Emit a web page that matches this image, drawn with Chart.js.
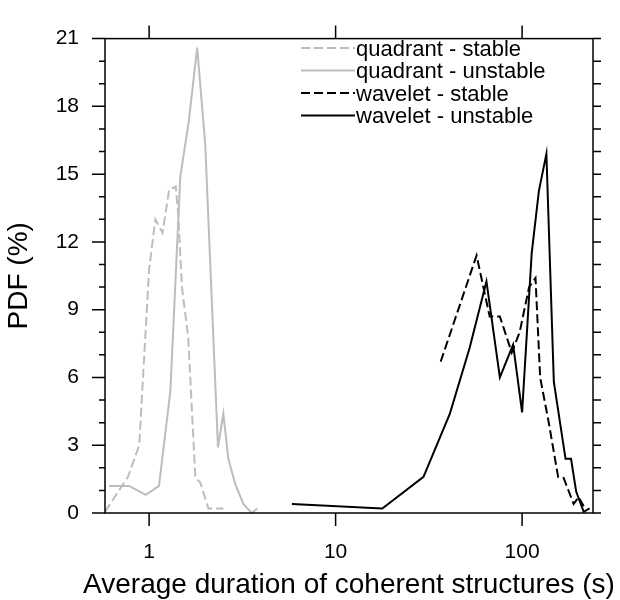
<!DOCTYPE html>
<html>
<head>
<meta charset="utf-8">
<script src="https://cdn.jsdelivr.net/npm/chart.js@4"></script>
<style>
  body { margin: 0; background: #fff; }
  canvas { display: block; }
</style>
</head>
<body>
<canvas id="pdfChart" width="620" height="600"></canvas>
<script>
// values (x in seconds, y in %)
const quadStableX = [0.58, 0.77, 0.885, 1.0, 1.08, 1.18, 1.28, 1.39, 1.43, 1.5, 1.62, 1.77, 1.88, 2.08, 2.5];
const quadStableY = [0.05, 1.6, 3.0, 10.8, 13.0, 12.4, 14.3, 14.45, 13.3, 10.0, 7.8, 1.55, 1.35, 0.2, 0.2];

const quadUnstableX = [0.61, 0.78, 0.96, 1.13, 1.30, 1.47, 1.63, 1.81, 2.0, 2.34, 2.5, 2.66, 2.89, 3.2, 3.55, 3.81];
const quadUnstableY = [1.2, 1.2, 0.8, 1.2, 5.4, 14.9, 17.3, 20.6, 16.3, 2.9, 4.4, 2.4, 1.3, 0.4, 0, 0.2];

const waveStableX = [36.6, 57, 67, 76, 88, 97, 109, 118, 125, 139, 156, 167, 189, 201, 214];
const waveStableY = [6.7, 11.4, 8.7, 8.7, 7.1, 8.0, 10.0, 10.4, 6.0, 4.0, 1.6, 1.55, 0.4, 0.7, 0.3];

const waveUnstableX = [5.83, 17.8, 29.6, 41, 52.3, 64.4, 76, 89.5, 100, 112.6, 123, 135, 148, 171, 183, 195, 214, 230];
const waveUnstableY = [0.4, 0.2, 1.6, 4.4, 7.3, 10.25, 6.0, 7.45, 4.45, 11.5, 14.25, 15.9, 5.8, 2.4, 2.4, 0.95, 0.05, 0.2];

const seriesNames = ["quadrant - stable", "quadrant - unstable", "wavelet - stable", "wavelet - unstable"];
const xMajorTicks = [1, 10, 100];
const yMax = 21;
const xTitle = "Average duration of coherent structures (s)";

const FONT = "'Liberation Sans', Arial, Helvetica, sans-serif";
const GRAY = "#bdbdbd";

function pts(xs, ys) {
  return xs.map((x, i) => ({ x: x, y: ys[i] }));
}

function line(label, xs, ys, color, dash) {
  return {
    label: label,
    data: pts(xs, ys),
    borderColor: color,
    backgroundColor: color,
    borderWidth: 2,
    borderDash: dash,
    pointRadius: 0,
    tension: 0,
    fill: false
  };
}

// box, tick marks, x title (chart.js squeezes it to the axis width) and the legend
const framePlugin = {
  id: "frame",
  afterDatasetsDraw(chart) {
    const ctx = chart.ctx;
    const a = chart.chartArea;
    const x = chart.scales.x;
    const y = chart.scales.y;
    ctx.save();
    ctx.strokeStyle = "#000";
    ctx.lineWidth = 1.5;
    ctx.setLineDash([]);
    ctx.strokeRect(a.left, a.top, a.right - a.left, a.bottom - a.top);
    ctx.beginPath();
    for (let v = 0; v <= yMax; v++) {
      const py = y.getPixelForValue(v);
      const len = v % 3 === 0 ? 13 : 6;
      ctx.moveTo(a.left - len, py);
      ctx.lineTo(a.left, py);
      ctx.moveTo(a.right, py);
      ctx.lineTo(a.right + 8, py);
    }
    xMajorTicks.forEach(v => {
      const px = x.getPixelForValue(v);
      ctx.moveTo(px, a.bottom);
      ctx.lineTo(px, a.bottom + 13);
      ctx.moveTo(px, a.top);
      ctx.lineTo(px, a.top - 13);
    });
    ctx.stroke();

    // x axis title
    ctx.fillStyle = "#000";
    ctx.font = "28px " + FONT;
    ctx.textAlign = "center";
    ctx.textBaseline = "alphabetic";
    ctx.fillText(xTitle, (a.left + a.right) / 2, 593);

    // legend
    ctx.font = "22px " + FONT;
    ctx.textAlign = "left";
    chart.data.datasets.forEach((ds, i) => {
      const ly = 48 + i * 22.5;
      ctx.beginPath();
      ctx.strokeStyle = ds.borderColor;
      ctx.lineWidth = 2;
      ctx.setLineDash(ds.borderDash || []);
      ctx.moveTo(301, ly);
      ctx.lineTo(355, ly);
      ctx.stroke();
      ctx.fillText(ds.label, 356, ly + 7.5);
    });
    ctx.restore();
  }
};

const chart = new Chart(document.getElementById("pdfChart").getContext("2d"), {
  type: "line",
  data: {
    datasets: [
      line(seriesNames[0], quadStableX, quadStableY, GRAY, [9, 4]),
      line(seriesNames[1], quadUnstableX, quadUnstableY, GRAY, []),
      line(seriesNames[2], waveStableX, waveStableY, "#000", [9, 4]),
      line(seriesNames[3], waveUnstableX, waveUnstableY, "#000", [])
    ]
  },
  options: {
    responsive: false,
    animation: false,
    layout: { padding: { top: 21, right: 22, left: 0, bottom: 0 } },
    plugins: {
      legend: { display: false },
      tooltip: { enabled: false }
    },
    scales: {
      x: {
        type: "logarithmic",
        min: 0.58,
        max: 240,
        grid: { display: false, drawTicks: false },
        border: { display: false },
        ticks: {
          autoSkip: false,
          maxRotation: 0,
          minRotation: 0,
          padding: 27,
          color: "#000",
          font: { size: 21, family: FONT },
          callback: function (v) {
            return xMajorTicks.includes(Number(v)) ? String(v) : "";
          }
        },
        title: { display: false },
        afterFit: function (scale) { scale.height = 87; }
      },
      y: {
        min: 0,
        max: yMax,
        grid: { display: false, drawTicks: false },
        border: { display: false },
        ticks: {
          stepSize: 3,
          padding: 26,
          color: "#000",
          font: { size: 21, family: FONT }
        },
        title: {
          display: true,
          text: "PDF (%)",
          color: "#000",
          font: { size: 28, family: FONT },
          padding: 2
        },
        afterFit: function (scale) { scale.width = 105; }
      }
    }
  },
  plugins: [framePlugin]
});
</script>
</body>
</html>
